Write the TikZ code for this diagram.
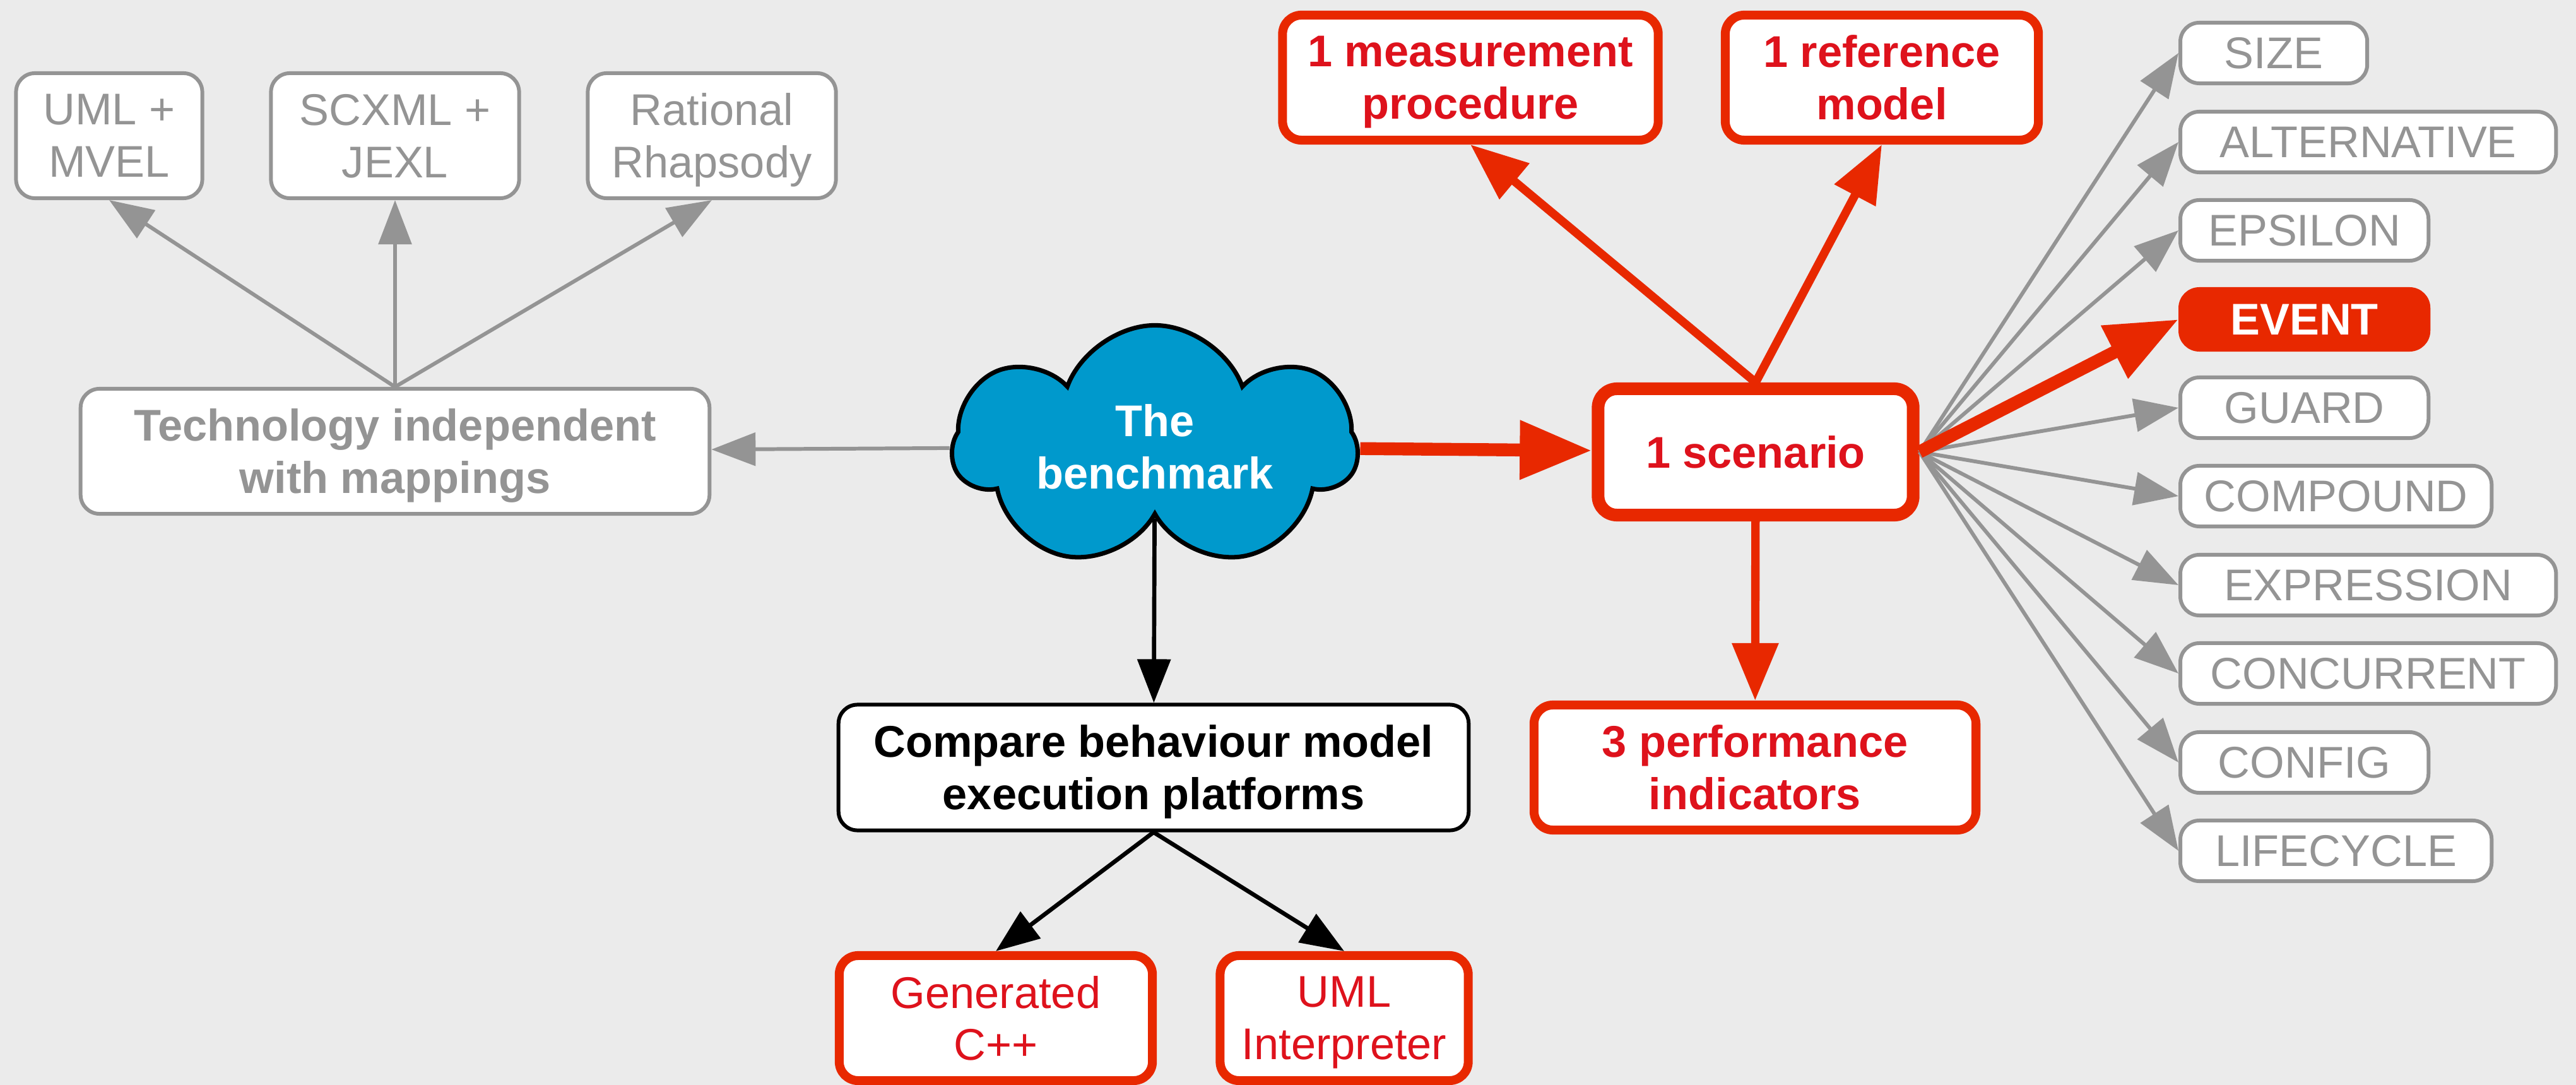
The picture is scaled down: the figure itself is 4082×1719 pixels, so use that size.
\documentclass[tikz,border=0pt]{standalone}
\usepackage{fontspec}
\setmainfont{Liberation Sans}
\usepackage{tikz}
\usetikzlibrary{arrows.meta,shapes.symbols}

\definecolor{bgcol}{RGB}{235,235,235}
\definecolor{redline}{RGB}{232,40,0}
\definecolor{redtext}{RGB}{222,18,28}
\definecolor{graycol}{RGB}{148,148,148}
\definecolor{cloudblue}{RGB}{0,153,204}
\newcommand{\lbl}{\fontsize{20}{23.6}\selectfont}

\begin{document}
\begin{tikzpicture}[x=0.01cm, y=-0.01cm,
    every node/.style={align=center, inner sep=0pt, text depth=0pt},
    graybox/.style={draw=graycol, line width=1.7pt, fill=white, rounded corners=0.3cm, text=graycol},
    redbox/.style={draw=redline, line width=4pt, fill=white, rounded corners=0.3cm, text=redtext},
    grayarrow/.style={draw=graycol, line width=1.7pt, -{Triangle[length=0.7cm, width=0.52cm]}},
    blackarrow/.style={line width=1.9pt, -{Triangle[length=0.69cm, width=0.52cm]}},
    redarrow/.style={draw=redline, line width=3.8pt, -{Triangle[length=0.91cm, width=0.71cm]}},
    bigarrow/.style={draw=redline, line width=5.8pt, -{Triangle[length=1.14cm, width=0.89cm]}}]
    \useasboundingbox[fill=bgcol] (0,0) rectangle (4082,1719);

    % mappings
    \node[graybox, font=\lbl, minimum width=2.95cm, minimum height=1.98cm] (uml) at (173,215) {UML +\\MVEL};
    \node[graybox, font=\lbl, minimum width=3.93cm, minimum height=1.98cm] (scxml) at (626,215) {SCXML +\\JEXL};
    \node[graybox, font=\lbl, minimum width=3.93cm, minimum height=1.98cm] (rhap) at (1128,215) {Rational\\Rhapsody};
    \node[graybox, font=\lbl\bfseries, minimum width=9.96cm, minimum height=1.98cm] (tech) at (626,715) {Technology independent\\with mappings};

    % benchmark and platforms
    \node[cloud, cloud puffs=7, cloud puff arc=140, cloud ignores aspect, draw, line width=2pt, fill=cloudblue, text=white,
          font=\lbl\bfseries, minimum width=6.4cm, minimum height=3.85cm] (bench) at (1830,708) {The\\benchmark};
    \node[draw, line width=1.7pt, fill=white, rounded corners=0.3cm, font=\lbl\bfseries,
          minimum width=9.98cm, minimum height=1.99cm] (cmp) at (1828,1216) {Compare behaviour model\\execution platforms};
    \node[redbox, font=\lbl, minimum width=4.96cm, minimum height=1.98cm] (gen) at (1578,1613) {Generated\\C++};
    \node[redbox, font=\lbl, minimum width=3.93cm, minimum height=1.98cm] (uint) at (2130,1613) {UML\\Interpreter};

    % scenario side
    \node[redbox, font=\lbl\bfseries, minimum width=5.95cm, minimum height=1.98cm] (meas) at (2330,123) {1 measurement\\procedure};
    \node[redbox, font=\lbl\bfseries, minimum width=4.96cm, minimum height=1.98cm] (refm) at (2982,123) {1 reference\\model};
    \node[redbox, line width=5.7pt, font=\lbl\bfseries, minimum width=4.99cm, minimum height=2cm] (scen) at (2782,716) {1 scenario};
    \node[redbox, font=\lbl\bfseries, minimum width=7cm, minimum height=1.98cm] (perf) at (2781,1216) {3 performance\\indicators};

    \foreach \nm/\txt/\yy/\ww in {size/SIZE/84/2.96cm, alt/ALTERNATIVE/225/5.95cm, eps/EPSILON/365/3.93cm,
        guard/GUARD/646/3.93cm, comp/COMPOUND/786/4.93cm, expr/EXPRESSION/927/5.95cm,
        conc/CONCURRENT/1067/5.95cm, conf/CONFIG/1208/3.93cm, life/LIFECYCLE/1348/4.93cm}
        \node[graybox, font=\lbl, anchor=west, minimum width=\ww, minimum height=0.96cm] (\nm) at (3452,\yy) {\txt};
    \node[redbox, fill=redline, line width=1.7pt, text=white, font=\lbl\bfseries, anchor=west,
          minimum width=3.93cm, minimum height=0.96cm] (event) at (3452,506) {EVENT};

    % connectors
    \foreach \nm in {uml, scxml, rhap}
        \draw[grayarrow] (tech.north) -- (\nm.south);
    \draw[grayarrow] (bench) -- (tech);
    \draw[blackarrow] (bench) -- (cmp);
    \draw[blackarrow] (cmp.south) -- (gen.north);
    \draw[blackarrow] (cmp.south) -- (uint.north);
    \draw[bigarrow] (bench) -- (scen);
    \draw[redarrow] (scen.north) -- (meas.south);
    \draw[redarrow] (scen.north) -- (refm.south);
    \draw[redarrow] (scen) -- (perf);
    \foreach \nm in {size, alt, eps, guard, comp, expr, conc, conf, life}
        \draw[grayarrow] (scen.east) -- (\nm.west);
    \draw[bigarrow] (scen.east) -- (event.west);
\end{tikzpicture}
\end{document}
